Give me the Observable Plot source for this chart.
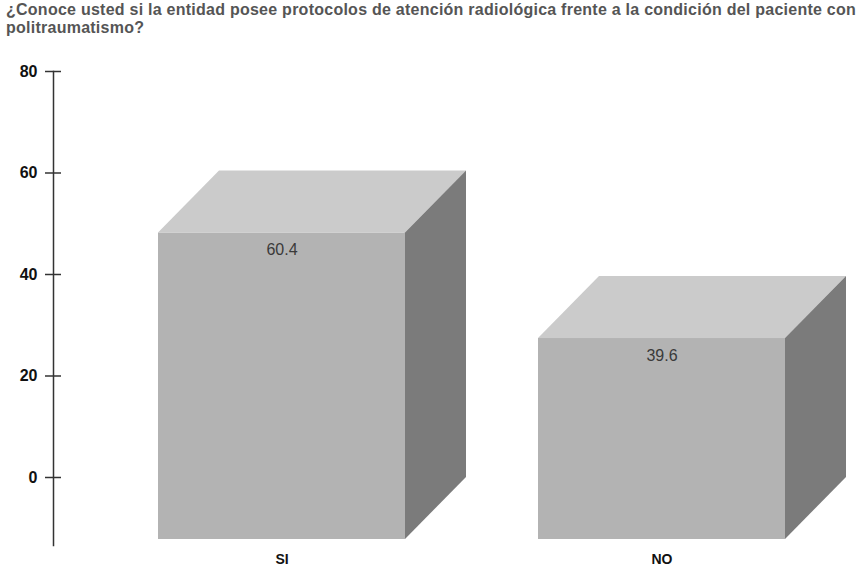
<!DOCTYPE html>
<html><head><meta charset="utf-8">
<script src="https://cdn.jsdelivr.net/npm/d3@7"></script>
<script src="https://cdn.jsdelivr.net/npm/@observablehq/plot@0.6"></script>
<style>
body{margin:0;background:#fff;width:864px;height:569px;overflow:hidden;position:relative}
#title{position:absolute;left:6px;top:1px;font:bold 16px "Liberation Sans",Arial,sans-serif;letter-spacing:0.25px;color:#555;line-height:18px;white-space:nowrap}
#chart{position:absolute;left:0;top:40px}
</style></head>
<body>
<div id="title"></div>
<div id="chart"></div>
<script>
const titleLines = ["¿Conoce usted si la entidad posee protocolos de atención radiológica frente a la condición del paciente con", "politraumatismo?"];
const categories = ["SI", "NO"];
const values = [60.4, 39.6];
const yTicks = [0, 20, 40, 60, 80];

const data = categories.map((c, i) => ({cat: c, value: values[i]}));
document.getElementById("title").innerHTML = titleLines.join("<br>");

const depthX = 61, depthY = 62;
const colTop = "#cbcbcb", colFront = "#b3b3b3", colSide = "#7b7b7b";

function box3d(index, scales) {
  const g = d3.create("svg:g");
  const x = scales.x, y = scales.y, bw = x.bandwidth();
  for (const d of data) {
    const fl = x(d.cat), fr = fl + bw;
    const yb = y(d.value), y0 = y(0);
    g.append("path").attr("fill", colTop)
      .attr("d", `M${fl},${yb + depthY}L${fl + depthX},${yb}L${fr + depthX},${yb}L${fr},${yb + depthY}Z`);
    g.append("path").attr("fill", colSide)
      .attr("d", `M${fr},${yb + depthY}L${fr + depthX},${yb}L${fr + depthX},${y0}L${fr},${y0 + depthY}Z`);
  }
  return g.node();
}

const plot = Plot.plot({
  width: 864, height: 529,
  marginTop: 31, marginBottom: 24, marginLeft: 53, marginRight: 0,
  style: {fontFamily: '"Liberation Sans", Arial, sans-serif', fontSize: "14px", fontWeight: "bold", color: "#111", background: "#fff"},
  x: {domain: categories, range: [119, 824], paddingInner: 0.349, paddingOuter: 0.1, align: 0.5, axis: null, label: null},
  y: {domain: [-13.4, 80], axis: null, label: null},
  marks: [
    Plot.barY(data, {x: "cat", y: "value", dy: depthY, fill: colFront}),
    box3d,
    Plot.text(data, {x: "cat", y: "value", text: d => d.value.toFixed(1), dy: depthY + 17, fontSize: 16, fontWeight: "normal", fill: "#3a3a3a"}),
    Plot.frame({anchor: "left", stroke: "#333", strokeWidth: 1.5}),
    Plot.axisY({ticks: yTicks, tickSize: 16, dx: 8, tickPadding: 8, stroke: "#333", strokeWidth: 1.5, fill: "#111", fontSize: 16, label: null}),
    Plot.axisX({tickSize: 0, tickPadding: 9, fill: "#111", fontSize: 14, label: null})
  ]
});
document.getElementById("chart").appendChild(plot);
</script>
</body></html>
